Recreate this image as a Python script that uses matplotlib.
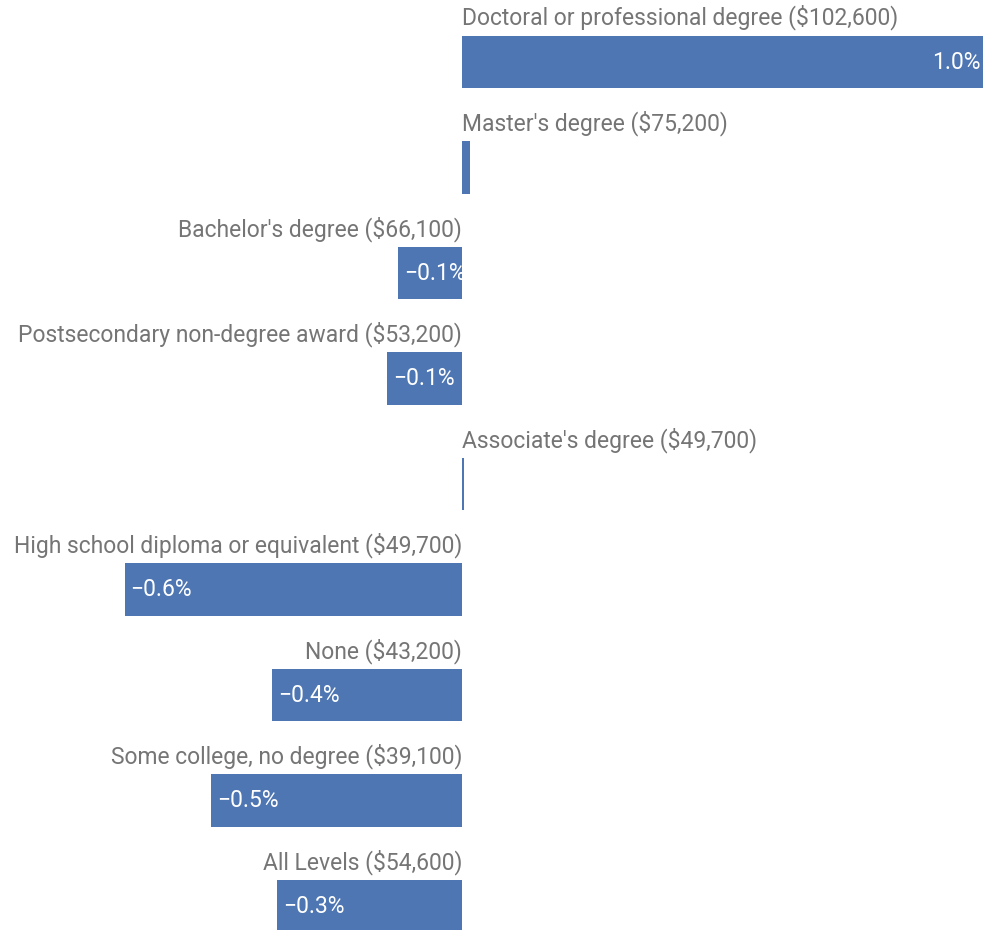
import matplotlib
matplotlib.use("Agg")
import matplotlib.pyplot as plt

plt.rcParams['font.family'] = ['Roboto', 'DejaVu Sans']

# education levels (median wage in label), change in percent
levels = ["Doctoral or professional degree ($102,600)",
          "Master's degree ($75,200)",
          "Bachelor's degree ($66,100)",
          "Postsecondary non-degree award ($53,200)",
          "Associate's degree ($49,700)",
          "High school diploma or equivalent ($49,700)",
          "None ($43,200)",
          "Some college, no degree ($39,100)",
          "All Levels ($54,600)"]
change = [1.0, 0.016, -0.123, -0.144, 0.003, -0.648, -0.365, -0.481, -0.355]
value_labels = ["1.0%", "", "\u22120.1%", "\u22120.1%", "", "\u22120.6%",
                "\u22120.4%", "\u22120.5%", "\u22120.3%"]

bar_color = "#4e76b3"
text_gray = "#757575"

fig = plt.figure(figsize=(9.83, 9.3), dpi=100)
ax = fig.add_axes([0, 0, 1, 1])

y = list(range(len(levels)))
ax.barh(y, change, height=0.5, color=bar_color)

for i, (name, v, lab) in enumerate(zip(levels, change, value_labels)):
    if v >= 0:
        ax.text(0.0, i - 0.42, name, ha="left", va="center", fontsize=16.5, color=text_gray)
        if lab:
            ax.text(v - 0.004, i, lab, ha="right", va="center", fontsize=16.5, color="white")
    else:
        ax.text(0.0, i - 0.42, name, ha="right", va="center", fontsize=16.5, color=text_gray)
        if lab:
            ax.text(v + 0.011, i, lab, ha="left", va="center", fontsize=16.5, color="white")

ax.set_xlim(-0.887, 1.0)
ax.set_ylim(8.227, -0.588)
ax.axis("off")

fig.savefig("out.png", dpi=100)
